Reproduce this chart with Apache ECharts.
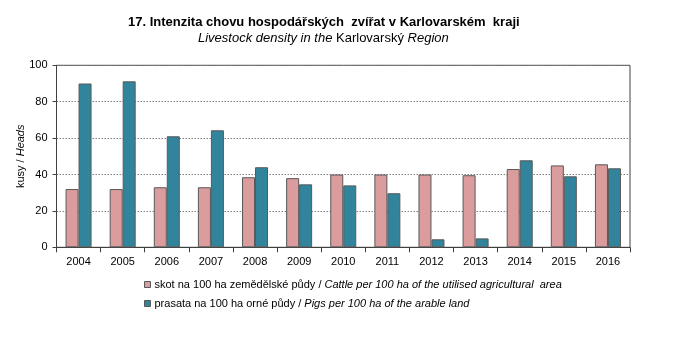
<!DOCTYPE html>
<html><head><meta charset="utf-8">
<script src="https://cdn.jsdelivr.net/npm/echarts@6/dist/echarts.min.js"></script>
<style>html,body{margin:0;padding:0;background:#fff}#c{width:673px;height:361px}</style>
</head><body><div id="c"></div>
<script>
const categories = ['2004','2005','2006','2007','2008','2009','2010','2011','2012','2013','2014','2015','2016'];
const cattle = [32, 32, 33, 33, 38.5, 38, 40, 40, 40, 39.6, 43, 45, 45.6];
const pigs = [90, 91.2, 61, 64.3, 44, 34.6, 34, 29.7, 4.4, 4.9, 47.8, 39, 43.4];
const yTicks = [0, 20, 40, 60, 80, 100];
const seriesNames = ['cattle', 'pigs'];

const F = 'Liberation Sans, Arial, sans-serif';
const chart = echarts.init(document.getElementById('c'));
chart.setOption({
  animation: false,
  title: [{
    text: '17. Intenzita chovu hospodářských  zvířat v Karlovarském  kraji',
    left: 128, top: 16, padding: 0,
    textStyle: { fontFamily: F, fontSize: 13, fontWeight: 'bold', color: '#000' }
  }, {
    text: '{i|Livestock density in the }{n|Karlovarský }{i|Region}',
    left: 198, top: 31.5, padding: 0,
    textStyle: { fontFamily: F, fontSize: 13, fontWeight: 'normal', color: '#000',
      rich: { i: { fontStyle: 'italic', fontFamily: F, fontSize: 13, color: '#000' },
              n: { fontFamily: F, fontSize: 13, color: '#000' } } }
  }],
  grid: { left: 56.5, right: 43, top: 65.3, bottom: 113.7, show: true, borderColor: '#404040', borderWidth: 1 },
  legend: {
    orient: 'vertical', left: 139, top: 274, itemGap: 8,
    itemWidth: 6, itemHeight: 6, icon: 'rect',
    data: seriesNames,
    formatter: function (n) {
      return n === 'cattle'
        ? '{n|skot na 100 ha zemědělské půdy / }{i|Cattle per 100 ha of the utilised agricultural  area}'
        : '{n|prasata na 100 ha orné půdy / }{i|Pigs per 100 ha of the arable land}';
    },
    textStyle: { fontFamily: F, fontSize: 11, color: '#000', padding: [0,0,0,-1],
      rich: { n: { fontFamily: F, fontSize: 11, color: '#000' },
              i: { fontFamily: F, fontSize: 11, fontStyle: 'italic', color: '#000' } } },
    itemStyle: { borderColor: '#595959', borderWidth: 1 }
  },
  xAxis: {
    type: 'category', data: categories,
    axisLine: { lineStyle: { color: '#404040' } },
    axisTick: { show: true, length: 5, lineStyle: { color: '#404040' } },
    axisLabel: { fontFamily: F, fontSize: 11, color: '#000', margin: 9 }
  },
  yAxis: {
    type: 'value', min: 0, max: 100, interval: 20,
    name: '{n|kusy / }{i|Heads}', nameLocation: 'middle', nameGap: 30, nameRotate: 90,
    nameMoveOverlap: false,
    nameTextStyle: { fontFamily: F, fontSize: 11, color: '#000',
      rich: { n: { fontFamily: F, fontSize: 11, color: '#000' }, i: { fontFamily: F, fontSize: 11, fontStyle: 'italic', color: '#000' } } },
    axisLine: { show: true, lineStyle: { color: '#404040' } },
    axisTick: { show: true, length: 4, lineStyle: { color: '#404040' } },
    axisLabel: { fontFamily: F, fontSize: 11, color: '#000', margin: 9,
      formatter: v => yTicks.includes(v) ? String(v) : '' },
    splitLine: { show: true, lineStyle: { color: '#7f7f7f', type: [1.5, 1.5], width: 1 } }
  },
  series: [
    { name: 'cattle', type: 'bar', data: cattle, barWidth: 13, barGap: '0%',
      itemStyle: { color: '#DA9C9C', borderColor: '#595959', borderWidth: 1 } },
    { name: 'pigs', type: 'bar', data: pigs, barWidth: 13, barGap: '0%',
      itemStyle: { color: '#31849B', borderColor: '#595959', borderWidth: 1 } }
  ]
});
</script></body></html>
